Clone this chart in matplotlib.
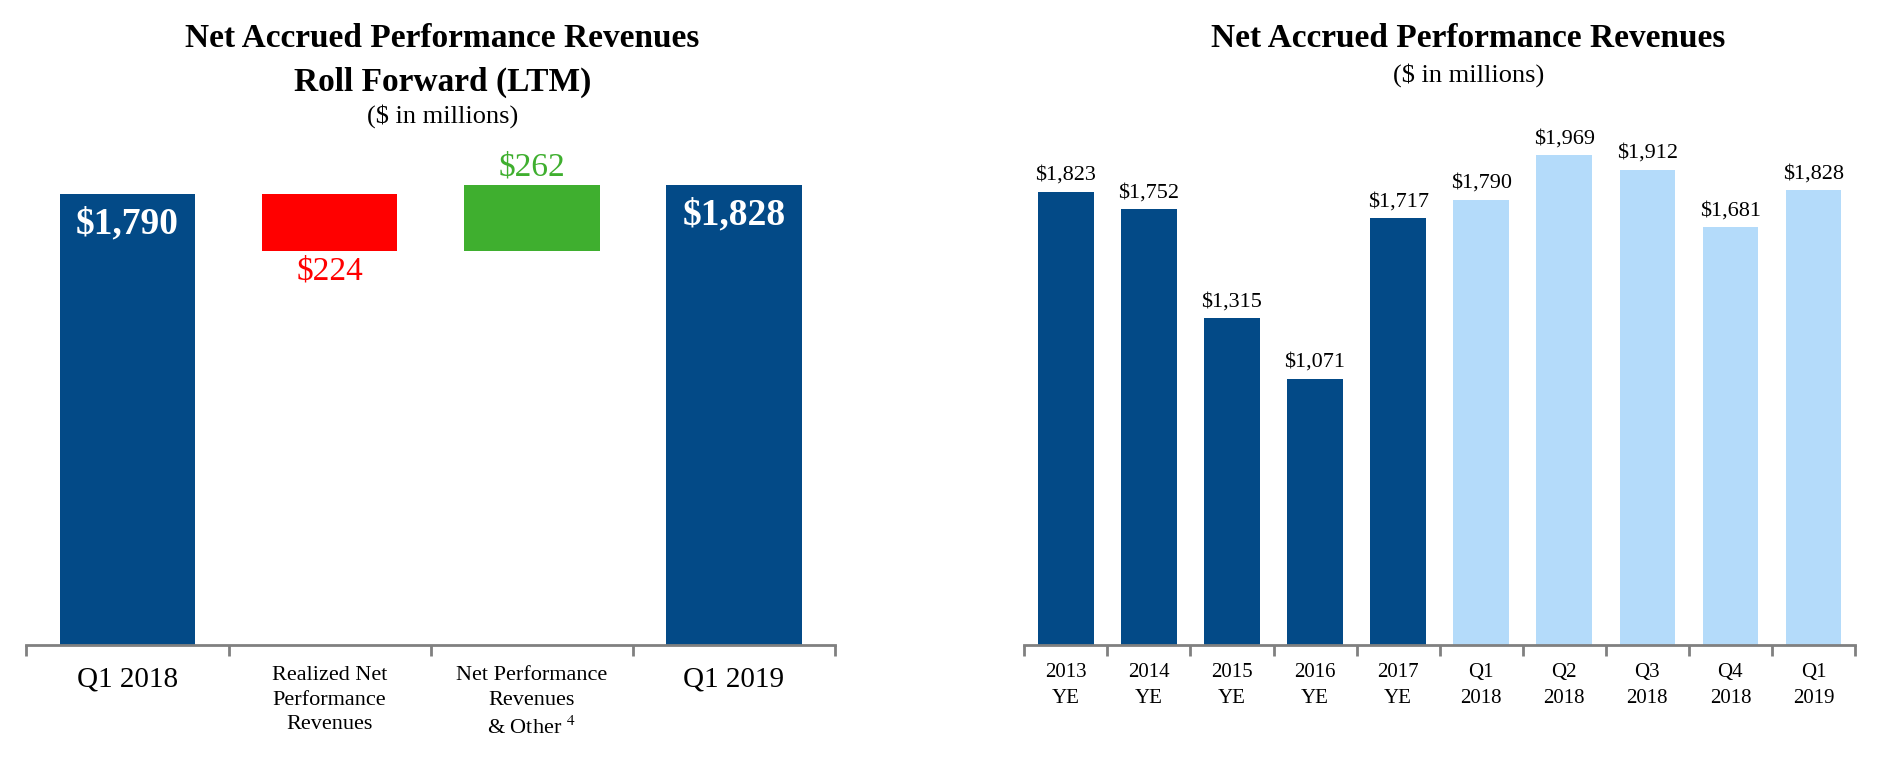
import matplotlib.pyplot as plt

plt.rcParams['font.family'] = ['Liberation Serif', 'DejaVu Serif']
plt.rcParams['mathtext.fontset'] = 'stix'

dark_blue = '#034A87'
light_blue = '#B4DBFA'
axis_grey = '#808080'

# left panel: roll forward
left_labels = ['Q1 2018', 'Realized Net\nPerformance\nRevenues',
               'Net Performance\nRevenues\n& Other $^{4}$', 'Q1 2019']
start_value = 1790
realized = 224
other = 262
end_value = 1828

# right panel: history
right_labels = ['2013\nYE', '2014\nYE', '2015\nYE', '2016\nYE', '2017\nYE',
                'Q1\n2018', 'Q2\n2018', 'Q3\n2018', 'Q4\n2018', 'Q1\n2019']
right_values = [1823, 1752, 1315, 1071, 1717, 1790, 1969, 1912, 1681, 1828]
right_kinds = ['year'] * 5 + ['quarter'] * 5


def style_axis(ax, n, fontsize, pad):
    for side in ['top', 'right', 'left']:
        ax.spines[side].set_visible(False)
    ax.spines['bottom'].set_color(axis_grey)
    ax.spines['bottom'].set_linewidth(2)
    ax.set_yticks([])
    ax.set_xlim(-0.5, n - 0.5)
    ax.set_ylim(0, 2000)
    ax.set_xticks([i - 0.5 for i in range(n + 1)], minor=True)
    ax.tick_params(axis='x', which='minor', length=8, width=2,
                   color=axis_grey, direction='out')
    ax.tick_params(axis='x', which='major', length=0, pad=pad,
                   labelsize=fontsize)


fig = plt.figure(figsize=(18.85, 7.61), dpi=100)

ax1 = fig.add_axes([0.014, 0.152, 0.429, 0.662])
mid = start_value - realized
ax1.bar(0, start_value, width=0.67, color=dark_blue)
ax1.bar(1, realized, bottom=mid, width=0.67, color='#FF0000')
ax1.bar(2, other, bottom=mid, width=0.67, color='#3FAF2F')
ax1.bar(3, end_value, width=0.67, color=dark_blue)
style_axis(ax1, 4, 16, 15)
ax1.set_xticks(range(4))
ax1.set_xticklabels(left_labels, va='top', linespacing=1.4)
for lab in ax1.get_xticklabels()[::3]:
    lab.set_fontsize(21)

ax1.annotate(f'${start_value:,}', (0, start_value), xytext=(0, -9),
             textcoords='offset points', ha='center', va='top',
             fontsize=27, fontweight='bold', color='white')
ax1.annotate(f'${end_value:,}', (3, end_value), xytext=(0, -9),
             textcoords='offset points', ha='center', va='top',
             fontsize=27, fontweight='bold', color='white')
ax1.annotate(f'${realized}', (1, mid), xytext=(0, -4),
             textcoords='offset points', ha='center', va='top',
             fontsize=24, color='#FF0000')
ax1.annotate(f'${other}', (2, mid + other), xytext=(0, 2),
             textcoords='offset points', ha='center', va='bottom',
             fontsize=24, color='#3FAF2F')

fig.text(0.2347, 0.949, 'Net Accrued Performance Revenues', ha='center',
         va='center', fontsize=24, fontweight='bold')
fig.text(0.2347, 0.892, 'Roll Forward (LTM)', ha='center', va='center',
         fontsize=24, fontweight='bold')
fig.text(0.2347, 0.847, '($ in millions)', ha='center', va='center',
         fontsize=19)

ax2 = fig.add_axes([0.5434, 0.152, 0.4407, 0.654])
colors = [dark_blue if k == 'year' else light_blue for k in right_kinds]
ax2.bar(range(len(right_values)), right_values, width=0.67, color=colors)
style_axis(ax2, len(right_values), 15, 13)
ax2.set_xticks(range(len(right_values)))
ax2.set_xticklabels(right_labels, linespacing=1.45)
for i, v in enumerate(right_values):
    ax2.annotate(f'${v:,}', (i, v), xytext=(0, 5),
                 textcoords='offset points', ha='center', va='bottom',
                 fontsize=16)

fig.text(0.779, 0.949, 'Net Accrued Performance Revenues', ha='center',
         va='center', fontsize=24, fontweight='bold')
fig.text(0.779, 0.902, '($ in millions)', ha='center', va='center',
         fontsize=19)

fig.savefig('out.png', dpi=100)
